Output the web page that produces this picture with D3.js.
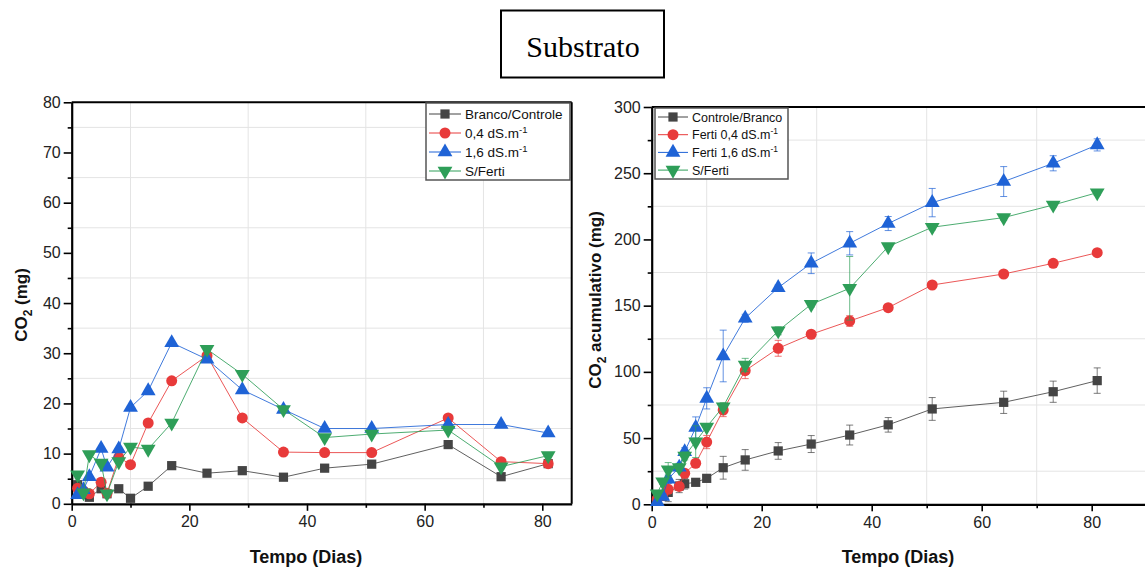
<!DOCTYPE html>
<html><head><meta charset="utf-8">
<script src="https://cdn.jsdelivr.net/npm/d3@7"></script>
<style>body{margin:0;background:#fff}svg{display:block;font-family:Arial,"Liberation Sans",sans-serif}</style>
</head><body><svg id="c" width="1145" height="569"></svg>
<script>
const days = [1,2,3,5,6,8,10,13,17,23,29,36,43,51,64,73,81];

// Left panel: CO2 (mg)
const branco = [3.8,2.3,1.3,3.0,2.0,3.0,1.1,3.5,7.6,6.1,6.6,5.3,7.1,7.9,11.8,5.4,8.0];
const ferti04 = [3.1,2.5,2.0,4.3,2.1,9.3,7.8,16.1,24.5,29.5,17.1,10.3,10.2,10.2,17.1,8.4,8.0];
const ferti16 = [1.8,2.8,5.4,11.0,7.3,10.9,19.2,22.5,32.1,28.8,22.7,18.8,15.0,15.0,15.8,15.8,14.1];
const sFerti = [5.8,2.2,9.8,8.1,2.0,8.4,11.3,10.9,16.1,30.8,25.8,18.8,13.2,13.9,14.7,7.4,9.6];
const leftNames = ["Branco/Controle","0,4 dS.m","1,6 dS.m","S/Ferti"];

// Right panel: CO2 acumulativo (mg)
const accBranco = [3,6,9,13.8,15.5,16.6,19.6,27.6,33.5,40.3,45.5,52.3,60,72,77,85,93.4];
const accBrancoErr = [2,3,7,5,4,2,2,8.6,7.8,6.3,6.4,7.5,5.5,8.6,8.4,8,9.6];
const acc04 = [4,7,11.3,13.5,23.4,31,47,71.2,100.9,117.8,128.4,138.4,148.5,165.6,173.9,182,190];
const acc04Err = [1,2,3,3,3,2,5,5,6,6,2,4,1,1,1,1,1];
const acc16 = [2,6,19,28,39.7,58,80,112,140.5,163.6,182,197.1,212,227.8,243.7,257.5,271.4];
const acc16Err = [1,2,3,3,3,8,8,19.5,3,2,7.8,8.8,5.3,10.7,11.3,5.7,4.6];
const accSF = [8,17,26,27.7,36.5,47.3,58.4,73.7,105.2,131,151,163.1,194.6,209.2,216.5,226,235.3];
const accSFErr = [2,2,5.5,3,3,12,2,3,5,3,2,24,2,2,2,2,2];
const rightNames = ["Controle/Branco","Ferti 0,4 dS.m","Ferti 1,6 dS.m","S/Ferti"];
const supNeeded = [false,true,true,false];

const colors = ["#444444","#e83a3a","#1f63d6","#2e9e58"];
const symbols = [d3.symbolSquare, d3.symbolCircle, d3.symbolTriangle, d3.symbolTriangle];
const symSizes = [85, 95, 95, 95];
const symRot = [0,0,0,180];

const svg = d3.select("#c");

// Title box
svg.append("rect").attr("x",501).attr("y",10.5).attr("width",163).attr("height",67)
  .attr("fill","#fff").attr("stroke","#000").attr("stroke-width",2);
svg.append("text").attr("x",583).attr("y",57).attr("text-anchor","middle")
  .style("font-family","'Liberation Serif','Times New Roman',serif").style("font-size","30px").text("Substrato");

function marker(g, i, x, y) {
  g.append("path").attr("d", d3.symbol().type(symbols[i]).size(symSizes[i])())
    .attr("transform", `translate(${x},${y}) rotate(${symRot[i]})`)
    .attr("fill", colors[i]);
}

function panel(opt) {
  const {x0,x1,y0,y1,xDom,yDom,yTicks,yMinor,series,errs,names,legend} = opt;
  const x = d3.scaleLinear().domain(xDom).range([x0,x1]);
  const y = d3.scaleLinear().domain(yDom).range([y0,y1]);
  const g = svg.append("g");
  const xMinor = d3.range(10, xDom[1], 20);
  g.selectAll(null).data(xMinor).enter().append("line")
    .attr("x1",d=>x(d)).attr("x2",d=>x(d)).attr("y1",y0).attr("y2",y1)
    .attr("stroke","#e4e4e4").attr("stroke-width",1);
  g.selectAll(null).data(yMinor).enter().append("line")
    .attr("x1",x0).attr("x2",Math.min(x1,1145)).attr("y1",d=>y(d)).attr("y2",d=>y(d))
    .attr("stroke","#e4e4e4").attr("stroke-width",1);
  g.append("line").attr("x1",x0).attr("x2",x1).attr("y1",y1).attr("y2",y1).attr("stroke","#000").attr("stroke-width",2);
  g.append("line").attr("x1",x1).attr("x2",x1).attr("y1",y1).attr("y2",y0).attr("stroke","#000").attr("stroke-width",2);
  const xAxis = d3.axisBottom(x).tickValues([0,20,40,60,80]).tickSize(7).tickSizeOuter(0).tickPadding(5);
  g.append("g").attr("transform",`translate(0,${y0})`).call(xAxis);
  const xMinAxis = d3.axisBottom(x).tickValues(xMinor).tickSize(4).tickFormat("");
  g.append("g").attr("transform",`translate(0,${y0})`).call(xMinAxis).select(".domain").remove();
  const yAxis = d3.axisLeft(y).tickValues(yTicks).tickSize(8).tickSizeOuter(0).tickPadding(3);
  g.append("g").attr("transform",`translate(${x0},0)`).call(yAxis);
  const yMinAxis = d3.axisLeft(y).tickValues(yMinor).tickSize(4).tickFormat("");
  g.append("g").attr("transform",`translate(${x0},0)`).call(yMinAxis).select(".domain").remove();
  g.selectAll(".domain").attr("stroke","#000").attr("stroke-width",2.2);
  g.selectAll(".tick line").attr("stroke","#000").attr("stroke-width",1.6);
  g.selectAll(".tick text").style("font-size","16px").style("font-family","Arial,'Liberation Sans',sans-serif").attr("fill","#222");
  series.forEach((vals,i)=>{
    const pts = days.map((d,k)=>[x(d), y(vals[k])]);
    if (errs) {
      const e = errs[i];
      days.forEach((d,k)=>{
        const xx = x(d), yt = y(vals[k]+e[k]), yb = y(vals[k]-e[k]);
        g.append("line").attr("x1",xx).attr("x2",xx).attr("y1",yt).attr("y2",yb).attr("stroke",colors[i]).attr("stroke-opacity",0.7).attr("stroke-width",1);
        [yt,yb].forEach(yy=>g.append("line").attr("x1",xx-3.5).attr("x2",xx+3.5).attr("y1",yy).attr("y2",yy).attr("stroke",colors[i]).attr("stroke-opacity",0.7).attr("stroke-width",1));
      });
    }
    g.append("path").attr("d", d3.line()(pts)).attr("fill","none").attr("stroke",colors[i]).attr("stroke-width",1).attr("stroke-opacity",0.85);
    pts.forEach(p=>marker(g,i,p[0],p[1]));
  });
  const L = legend;
  g.append("rect").attr("x",L.x).attr("y",L.y).attr("width",L.w).attr("height",L.h)
    .attr("fill","#fff").attr("stroke","#555").attr("stroke-width",1.5);
  names.forEach((n,i)=>{
    const yy = L.y + L.first + i*L.step;
    g.append("line").attr("x1",L.x+3).attr("x2",L.x+3+L.lineW).attr("y1",yy).attr("y2",yy).attr("stroke",colors[i]).attr("stroke-width",1);
    marker(g,i,L.x+3+L.lineW/2,yy);
    const t = g.append("text").attr("x",L.x+L.lineW+7).attr("y",yy+4.5).style("font-size",L.fs+"px").attr("fill","#111").text(n);
    if (supNeeded[i]) t.append("tspan").attr("dy",-5).style("font-size",(L.fs-4)+"px").text("-1");
  });
  return g;
}

panel({x0:71.7,x1:571.7,y0:503.8,y1:102.3,xDom:[0,85],yDom:[0,80],
  yTicks:[0,10,20,30,40,50,60,70,80], yMinor:[5,15,25,35,45,55,65,75],
  series:[branco,ferti04,ferti16,sFerti], errs:null, names:leftNames,
  legend:{x:426,y:103,w:144,h:77,first:11,step:19,lineW:32,fs:13.5}});

panel({x0:651.7,x1:1146.7,y0:504.3,y1:107,xDom:[0,90],yDom:[0,300],
  yTicks:[0,50,100,150,200,250,300], yMinor:[25,75,125,175,225,275],
  series:[accBranco,acc04,acc16,accSF], errs:[accBrancoErr,acc04Err,acc16Err,accSFErr], names:rightNames,
  legend:{x:655,y:108,w:133,h:71,first:9,step:17.7,lineW:30,fs:12.5}});

function ytitle(x, y, post) {
  const t = svg.append("text").attr("transform",`translate(${x},${y}) rotate(-90)`).attr("text-anchor","middle")
    .style("font-size","17px").style("font-weight","bold").attr("fill","#111");
  t.append("tspan").text("CO");
  t.append("tspan").attr("dy",5).style("font-size","12px").text("2");
  t.append("tspan").attr("dy",-5).text(post);
}
ytitle(27, 305, " (mg)");
ytitle(601, 300, " acumulativo (mg)");
svg.append("text").attr("x",306).attr("y",563).attr("text-anchor","middle").style("font-size","18px").style("font-weight","bold").attr("fill","#111").text("Tempo (Dias)");
svg.append("text").attr("x",898).attr("y",563).attr("text-anchor","middle").style("font-size","18px").style("font-weight","bold").attr("fill","#111").text("Tempo (Dias)");
</script></body></html>
